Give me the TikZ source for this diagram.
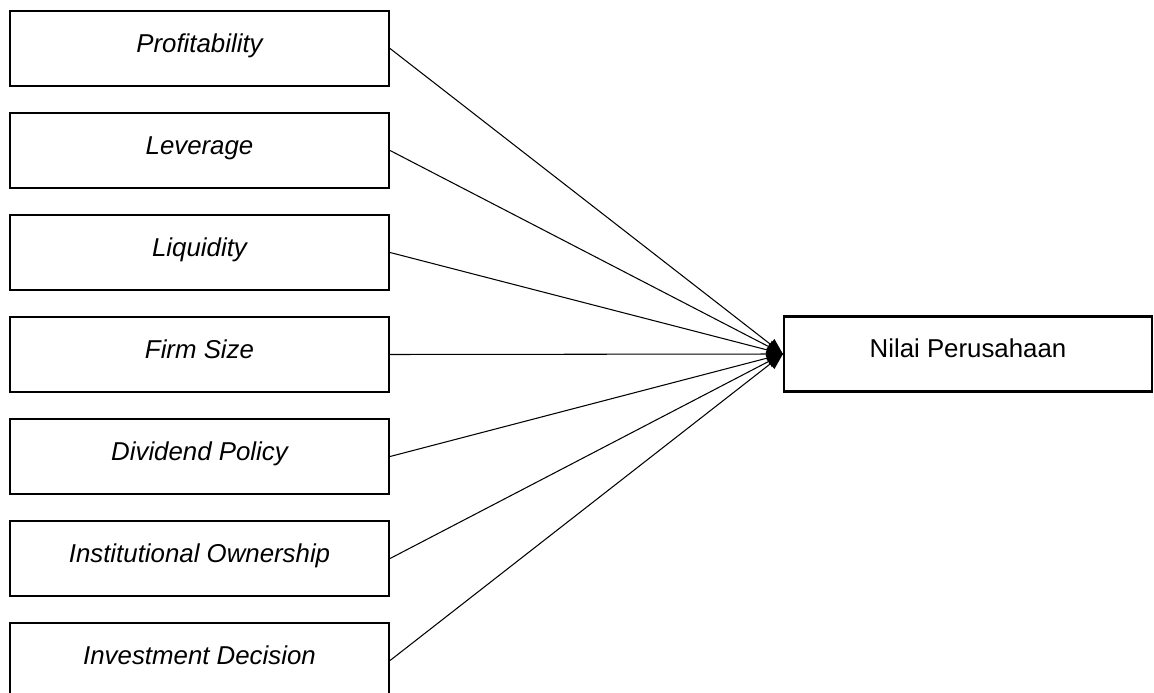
\documentclass[tikz,border=0pt]{standalone}
\usepackage{fontspec}
\setmainfont{Liberation Sans}
\usetikzlibrary{arrows.meta}

\begin{document}
\begin{tikzpicture}[
    varbox/.style={draw, line width=1.2pt, inner sep=0, minimum width=7.58cm,
        text height=0.83cm, text depth=0.67cm,
        font=\fontsize{14.7}{17}\selectfont},
    link/.style={line width=0.6pt, -{Triangle[length=0.32cm, width=0.26cm]}}
]

% Page frame
\useasboundingbox (0,0) rectangle (23.08,-13.86);

% ---------- Independent variables ----------
\node[varbox] (profit) at (3.99,-0.97) {\itshape Profitability};
\node[varbox] (lev)    at (3.99,-3.01) {\itshape Leverage};
\node[varbox] (liq)    at (3.99,-5.05) {\itshape Liquidity};
\node[varbox] (size)   at (3.99,-7.09) {\itshape Firm Size};
\node[varbox] (div)    at (3.99,-9.13) {\itshape Dividend Policy};
\node[varbox] (inst)   at (3.99,-11.17) {\itshape Institutional Ownership};
\node[varbox] (invest) at (3.99,-13.21) {\itshape Investment Decision};

% ---------- Dependent variable ----------
\node[varbox, minimum width=7.36cm] (value) at (19.36,-7.08) {Nilai Perusahaan};

% Arrows
\draw[link] (profit.east) -- (value.west);
\draw[link] (lev.east)    -- (value.west);
\draw[link] (liq.east)    -- (value.west);
\draw[link] (size.east)   -- (value.west);
\draw[link] (div.east)    -- (value.west);
\draw[link] (inst.east)   -- (value.west);
\draw[link] (invest.east) -- (value.west);

\end{tikzpicture}
\end{document}
